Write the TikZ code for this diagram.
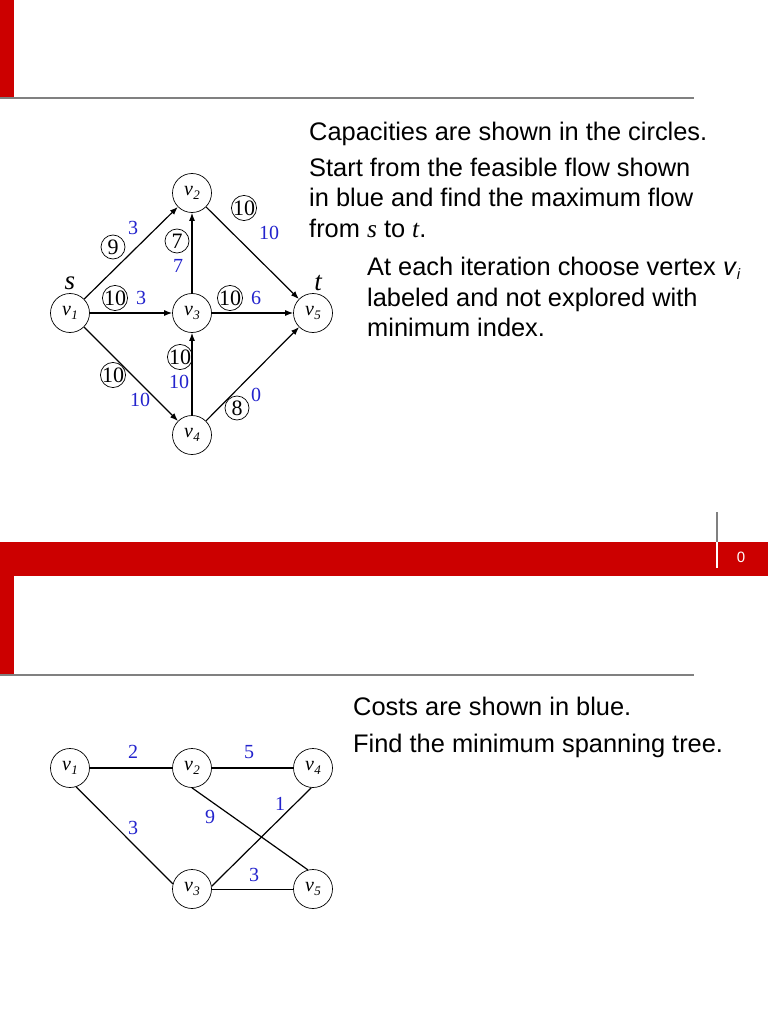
\documentclass[tikz,border=0pt]{standalone}
\usepackage{fontspec}
\setmainfont{Liberation Sans}
\newfontfamily\tms{Liberation Serif}
\usetikzlibrary{arrows.meta}
\definecolor{slidered}{RGB}{204,0,0}
\definecolor{rulegrey}{RGB}{128,128,128}
\definecolor{flowblue}{RGB}{35,35,205}
\newcommand{\vlab}[1]{{\tms\fontsize{20}{20}\selectfont\itshape v\kern0.5pt\raisebox{-4pt}{\fontsize{13}{13}\selectfont #1}}}
\begin{document}
\begin{tikzpicture}[x=1pt,y=-1pt,
  vert/.style={circle,draw,line width=0.7pt,minimum size=39pt,inner sep=0pt},
  capcirc/.style={circle,draw,line width=0.7pt,minimum size=24pt,inner sep=-0.5pt,font=\tms\fontsize{22}{22}\selectfont},
  flowlab/.style={text=flowblue,inner sep=0pt,font=\tms\fontsize{20}{20}\selectfont},
  arcline/.style={line width=1.2pt,-{Latex[length=8pt,width=6pt]}},
  edgeline/.style={line width=1.2pt},
  bodytext/.style={anchor=base west,inner sep=0pt,font=\fontsize{25.4}{30}\selectfont},
  termlab/.style={inner sep=0pt,font=\tms\itshape\fontsize{27}{27}\selectfont},
]
\useasboundingbox (0,0) rectangle (768,1024);
\fill[white] (0,0) rectangle (768,1024);
% slide decorations
\fill[slidered] (0,0) rectangle (14,98);
\draw[rulegrey,line width=2pt] (0,98.5) -- (694,98.5);
\fill[slidered] (0,542) rectangle (768,576);
\fill[slidered] (0,576) rectangle (14,674);
\draw[rulegrey,line width=2pt] (0,674.5) -- (694,674.5);
\draw[rulegrey,line width=2pt] (716.5,512) -- (716.5,542);
\draw[white,line width=2pt] (716.5,542) -- (716.5,568);
\node[text=white,inner sep=0pt,font=\fontsize{15}{15}\selectfont] (pg) at (741,557) {0};

% ---- top graph ----
\node[vert] (a1) at (70,313) {\vlab{1}};
\node[vert] (a2) at (192,193) {\vlab{2}};
\node[vert] (a3) at (192,313) {\vlab{3}};
\node[vert] (a4) at (192,435) {\vlab{4}};
\node[vert] (a5) at (313,313) {\vlab{5}};
\node[termlab] (s) at (70,283) {s};
\node[termlab] (t) at (318,283) {t};

\draw[arcline] (a1) -- (a2);
\draw[arcline] (a2) -- (a5);
\draw[arcline] (a1) -- (a3);
\draw[arcline] (a3) -- (a5);
\draw[arcline] (a3) -- (a2);
\draw[arcline] (a4) -- (a3);
\draw[arcline] (a1) -- (a4);
\draw[arcline] (a4) -- (a5);

\node[capcirc] (c12) at (113,247) {9};
\node[flowlab] (f12) at (133,228) {3};
\node[capcirc] (c25) at (244,208) {10};
\node[flowlab] (f25) at (269,233) {10};
\node[capcirc] (c32) at (177,241) {7};
\node[flowlab] (f32) at (178,266) {7};
\node[capcirc] (c13) at (115,298) {10};
\node[flowlab] (f13) at (141,298) {3};
\node[capcirc] (c35) at (230,298) {10};
\node[flowlab] (f35) at (256,298) {6};
\node[capcirc] (c43) at (180,357) {10};
\node[flowlab] (f43) at (179,382) {10};
\node[capcirc] (c14) at (113,375) {10};
\node[flowlab] (f14) at (140,400) {10};
\node[capcirc] (c45) at (237,408) {8};
\node[flowlab] (f45) at (256,395) {0};

% ---- top text ----
\node[bodytext] (p1) at (309,141) {Capacities are shown in the circles.};
\node[bodytext] (p2) at (309,177) {Start from the feasible flow shown};
\node[bodytext] (p3) at (309,207) {in blue and find the maximum flow};
\node[bodytext] (p4) at (309,237) {from {\tms\itshape s} to {\tms\itshape t}.};
\node[bodytext] (q1) at (367,275) {At each iteration choose vertex \textit{v}\raisebox{-4pt}{\fontsize{15}{15}\selectfont\textit{i}}};
\node[bodytext] (q2) at (367,306) {labeled and not explored with};
\node[bodytext] (q3) at (367,336) {minimum index.};

% ---- bottom graph ----
\node[vert] (b1) at (70,768) {\vlab{1}};
\node[vert] (b2) at (192,768) {\vlab{2}};
\node[vert] (b4) at (313,768) {\vlab{4}};
\node[vert] (b3) at (192,889) {\vlab{3}};
\node[vert] (b5) at (313,889) {\vlab{5}};

\draw[edgeline] (b1) -- (b2);
\draw[edgeline] (b2) -- (b4);
\draw[edgeline] (b1.-72) -- (b3.165);
\draw[edgeline] (b2.-90) -- (b5.105);
\draw[edgeline] (b3.8) -- (b4.-95);
\draw[line width=0.8pt] (b3) -- (b5);

\node[flowlab] (w12) at (133,752) {2};
\node[flowlab] (w24) at (249,752) {5};
\node[flowlab] (w13) at (133,828) {3};
\node[flowlab] (w25) at (210,817) {9};
\node[flowlab] (w34) at (280,804) {1};
\node[flowlab] (w35) at (254,875) {3};

% ---- bottom text ----
\node[bodytext] (r1) at (353,715) {Costs are shown in blue.};
\node[bodytext] (r2) at (353,752) {Find the minimum spanning tree.};
\end{tikzpicture}
\end{document}
